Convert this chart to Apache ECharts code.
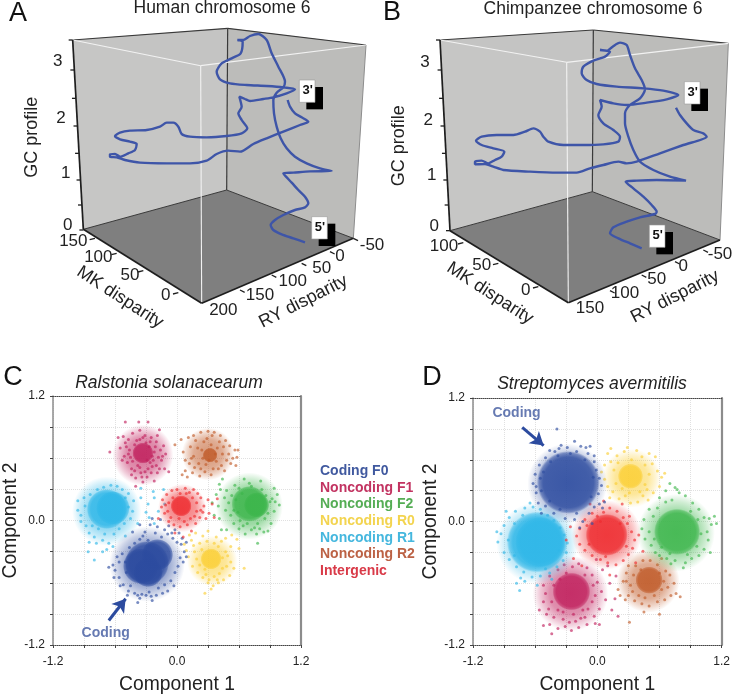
<!DOCTYPE html>
<html><head><meta charset="utf-8">
<style>html,body{margin:0;padding:0;background:#fff}#c{width:733px;height:695px}</style>
<script src="https://cdn.jsdelivr.net/npm/echarts@6/dist/echarts.min.js"></script></head>
<body><div id="c"></div>
<script>
// ---------- panels A, B: projected path of the 3D curve (picture-plane units) ----------
const humanCurve=[[915,727],[880,715],[845,703],[820,690],[812,675],[825,660],[850,645],[885,630],[915,622],[925,610],[915,590],[895,570],[875,548],[858,530],[850,520],[880,518],[930,514],[995,513],[960,505],[920,490],[885,470],[860,445],[842,415],[830,380],[822,340],[820,300],[830,278],[850,262],[855,245],[835,200],[815,160],[800,120],[775,102],[750,108],[730,120],[712,120],[728,125],[722,160],[695,175],[665,190],[650,215],[660,238],[690,250],[740,255],[800,258],[850,262],[885,268],[860,280],[820,292],[790,297],[750,303],[735,297],[718,290],[722,305],[725,320],[715,340],[725,360],[742,385],[725,400],[680,408],[620,412],[570,410],[545,402],[535,380],[520,368],[500,368],[480,380],[440,390],[390,392],[360,398],[345,408],[360,418],[390,425],[410,432],[405,450],[385,460],[360,470],[345,462],[330,463],[330,470],[350,472],[375,480],[420,488],[500,490],[570,490],[620,482],[650,462],[685,452],[720,455],[760,432],[800,415],[850,395],[900,375],[925,365],[905,352],[885,340],[870,320],[863,300]];
const chimpCurve=[[815,745],[780,730],[745,715],[720,700],[730,682],[770,665],[810,652],[855,642],[860,635],[845,615],[820,590],[790,565],[767,545],[800,542],[860,540],[948,542],[900,530],[850,510],[810,485],[790,450],[775,410],[765,370],[765,340],[780,315],[810,295],[825,268],[815,240],[795,205],[780,165],[770,135],[750,128],[728,140],[712,152],[690,150],[720,155],[705,170],[670,182],[640,200],[635,220],[650,240],[680,252],[740,260],[820,265],[880,272],[925,285],[890,298],[830,308],[770,315],[730,310],[690,300],[695,320],[685,345],[700,370],[730,390],[750,410],[745,425],[700,433],[640,435],[580,435],[535,425],[520,410],[510,395],[490,385],[465,395],[430,405],[380,405],[335,410],[318,422],[335,435],[370,445],[403,455],[395,470],[375,480],[355,490],[335,482],[315,485],[315,493],[345,492],[370,500],[400,510],[480,515],[560,518],[620,518],[660,505],[700,495],[745,485],[770,490],[800,485],[870,460],[940,435],[1010,410],[1000,400],[970,390],[950,370],[930,345],[918,323]];
const gcTicks=['3','2','1','0'];
const mkTicksA=['150','100','50','0'];
const ryTicksA=['200','150','100','50','0','-50'];
const mkTicksB=['100','50','0'];
const ryTicksB=['150','100','50','0','-50'];

// ---------- panels C, D: cluster legend and scattered points (component 1, component 2) ----------
const classNames=['Coding F0','Noncoding F1','Noncoding F2','Noncoding R0','Noncoding R1','Noncoding R2','Intergenic'];
const cCoding=[[-0.66,-0.45],[-0.56,-0.55],[-0.55,-0.63],[-0.53,-0.32],[-0.56,-0.40],[-0.52,-0.62],[-0.47,-0.68],[-0.41,-0.70],[-0.38,-0.72],[-0.34,-0.71],[-0.30,-0.72],[-0.27,-0.69],[-0.25,-0.73],[-0.20,-0.72],[-0.14,-0.70],[-0.18,-0.65],[-0.12,-0.62],[-0.06,-0.58],[-0.02,-0.50],[0.01,-0.44],[0.03,-0.36],[0.07,-0.30],[0.04,-0.23],[-0.04,-0.17],[-0.09,-0.13],[-0.15,-0.16],[-0.19,-0.06],[-0.26,-0.04],[-0.31,-0.11],[-0.36,-0.18],[-0.41,-0.22],[-0.46,-0.26],[-0.43,-0.11],[-0.36,-0.04],[-0.24,0.02],[-0.16,0.01],[-0.08,-0.05],[-0.02,-0.09],[-0.36,-0.75],[-0.38,-0.79],[-0.24,-0.77],[-0.48,-0.72],[0.02,-0.12],[0.09,-0.21],[-0.60,-0.48],[-0.49,-0.50],[-0.58,-0.35],[-0.61,-0.55],[-0.28,-0.19],[-0.21,-0.12],[-0.33,-0.15],[-0.12,-0.09],[-0.05,-0.12],[0.06,-0.40],[0.09,-0.35],[-0.03,-0.63],[-0.09,-0.68],[-0.45,-0.63],[-0.50,-0.40],[-0.62,-0.43],[0.05,-0.17],[0.00,-0.21]];
const cF1=[[-0.50,0.95],[-0.37,0.95],[-0.28,0.95],[-0.65,0.66],[-0.57,0.80],[-0.17,0.875],[-0.52,0.81],[-0.47,0.78],[-0.43,0.84],[-0.36,0.87],[-0.31,0.82],[-0.25,0.80],[-0.20,0.76],[-0.13,0.72],[-0.11,0.64],[-0.15,0.58],[-0.12,0.50],[-0.19,0.46],[-0.24,0.52],[-0.29,0.42],[-0.35,0.46],[-0.40,0.41],[-0.44,0.50],[-0.48,0.56],[-0.51,0.62],[-0.55,0.70],[-0.49,0.71],[-0.45,0.61],[-0.41,0.73],[-0.27,0.71],[-0.22,0.66],[-0.18,0.61],[-0.23,0.58],[-0.28,0.50],[-0.38,0.53],[-0.33,0.37],[-0.22,0.38],[-0.40,0.33],[-0.30,0.75],[-0.36,0.78],[-0.16,0.68],[-0.46,0.68],[-0.08,0.47],[-0.39,0.77],[-0.33,0.80],[-0.26,0.76],[-0.21,0.71],[-0.43,0.57],[-0.41,0.48],[-0.36,0.51],[-0.31,0.47],[-0.26,0.56],[-0.20,0.53],[-0.17,0.50],[-0.44,0.44],[-0.29,0.58],[-0.24,0.62],[-0.47,0.64],[-0.50,0.75],[-0.19,0.82],[-0.14,0.62],[-0.34,0.42],[-0.25,0.46],[-0.53,0.58]];
const cF2=[[0.41,0.35],[0.42,0.30],[0.38,0.25],[0.46,0.22],[0.34,0.17],[0.40,0.14],[0.36,0.05],[0.41,0.02],[0.43,-0.09],[0.48,-0.09],[0.47,0.10],[0.50,0.17],[0.52,0.05],[0.55,-0.03],[0.60,-0.08],[0.66,-0.13],[0.72,-0.09],[0.77,-0.13],[0.84,-0.11],[0.88,-0.10],[0.91,-0.03],[0.94,0.09],[0.99,0.15],[0.97,0.25],[0.94,0.31],[0.81,0.38],[0.65,0.40],[0.56,0.34],[0.48,0.29],[0.53,0.24],[0.60,0.31],[0.72,0.33],[0.86,0.24],[0.90,0.18],[0.85,0.02],[0.78,-0.03],[0.68,-0.03],[0.61,0.00],[0.55,0.10],[0.78,-0.22],[0.44,0.40],[0.92,0.21],[0.57,0.20],[0.59,0.08],[0.64,-0.05],[0.75,-0.07],[0.82,0.30],[0.70,0.36],[0.88,0.07],[0.95,0.18],[0.80,-0.08],[0.63,0.26]];
const cR0=[[0.07,-0.23],[0.12,-0.14],[0.18,-0.12],[0.25,-0.15],[0.30,-0.10],[0.38,-0.16],[0.47,-0.17],[0.53,-0.14],[0.58,-0.18],[0.60,-0.27],[0.52,-0.25],[0.47,-0.30],[0.52,-0.40],[0.55,-0.46],[0.51,-0.53],[0.45,-0.57],[0.40,-0.60],[0.35,-0.63],[0.30,-0.60],[0.25,-0.55],[0.20,-0.50],[0.15,-0.44],[0.11,-0.35],[0.09,-0.29],[0.16,-0.24],[0.22,-0.22],[0.29,-0.20],[0.40,-0.25],[0.44,-0.46],[0.36,-0.54],[0.28,-0.52],[0.19,-0.37],[0.27,-0.70],[0.65,-0.46],[0.33,-0.66],[0.41,-0.51],[0.24,-0.28],[0.36,-0.22],[0.44,-0.36],[0.48,-0.44],[0.22,-0.43],[0.17,-0.30],[0.31,-0.57],[0.39,-0.57],[0.27,-0.47],[0.49,-0.34],[0.43,-0.20],[0.14,-0.19]];
const cR1=[[-0.96,0.19],[-0.96,0.10],[-0.93,0.05],[-0.93,-0.01],[-0.88,-0.05],[-0.85,-0.12],[-0.80,-0.16],[-0.78,-0.22],[-0.85,-0.21],[-0.72,-0.19],[-0.66,-0.22],[-0.61,-0.13],[-0.56,-0.08],[-0.51,-0.03],[-0.45,0.02],[-0.43,0.09],[-0.42,0.19],[-0.47,0.26],[-0.53,0.30],[-0.58,0.33],[-0.64,0.34],[-0.71,0.32],[-0.77,0.30],[-0.84,0.25],[-0.90,0.22],[-0.72,-0.30],[-0.86,-0.30],[-0.80,-0.38],[-0.68,-0.28],[-0.35,0.22],[-0.28,0.16],[-0.22,0.22],[-0.18,0.09],[-0.38,-0.03],[-0.30,0.08],[-0.23,0.28],[-0.62,-0.25],[-0.50,-0.15],[-0.76,-0.08],[-0.35,0.31],[-0.27,0.03],[-0.22,-0.03],[-0.12,0.16],[-0.13,0.30],[-0.70,-0.13],[-0.82,-0.05],[-0.89,0.14],[-0.47,0.13],[-0.50,0.22]];
const cR2=[[0.06,0.66],[-0.02,0.73],[0.04,0.78],[0.11,0.80],[0.16,0.82],[0.23,0.85],[0.30,0.86],[0.36,0.85],[0.42,0.82],[0.47,0.77],[0.51,0.72],[0.56,0.68],[0.58,0.61],[0.52,0.55],[0.46,0.48],[0.40,0.50],[0.33,0.44],[0.27,0.47],[0.22,0.43],[0.15,0.46],[0.08,0.48],[0.05,0.44],[0.12,0.55],[0.16,0.62],[0.20,0.70],[0.26,0.76],[0.33,0.73],[0.39,0.70],[0.44,0.64],[0.48,0.58],[0.38,0.57],[0.28,0.54],[0.21,0.55],[0.57,0.53],[0.13,0.71],[0.34,0.82],[0.10,0.42],[0.59,0.68],[0.18,0.77],[0.24,0.68],[0.29,0.79],[0.41,0.76],[0.45,0.71],[0.50,0.64],[0.54,0.60],[0.43,0.53],[0.35,0.50],[0.25,0.60],[0.17,0.51],[0.14,0.60],[0.31,0.58],[0.37,0.64],[0.23,0.50],[0.08,0.58]];
const cInter=[[-0.15,0.13],[-0.14,0.20],[-0.12,0.07],[-0.10,0.25],[-0.08,-0.01],[-0.05,0.29],[-0.03,-0.04],[0.00,0.30],[0.03,-0.06],[0.08,0.31],[0.10,-0.04],[0.16,0.30],[0.18,-0.03],[0.20,0.26],[0.23,0.22],[0.26,0.14],[0.25,0.08],[0.22,0.03],[0.28,0.02],[0.31,0.07],[0.14,-0.10],[0.06,-0.16],[-0.02,-0.12],[-0.18,0.02],[0.30,0.20],[0.34,0.16],[0.19,0.09],[-0.08,0.17],[0.15,0.22],[0.09,0.26],[-0.04,0.22],[0.13,0.02],[0.36,0.03],[0.39,0.21],[-0.09,0.09],[-0.06,0.03],[0.02,0.02],[0.07,-0.01],[0.17,0.04],[0.19,0.17],[0.12,0.27],[0.03,0.26],[-0.11,0.15],[0.23,0.10]];
const dCoding=[[-0.39,0.90],[-0.22,0.78],[-0.35,0.74],[-0.16,0.73],[-0.07,0.73],[-0.11,0.72],[-0.37,0.71],[-0.41,0.68],[-0.20,0.68],[-0.09,0.66],[-0.03,0.58],[-0.50,0.62],[-0.56,0.55],[-0.60,0.46],[-0.62,0.37],[-0.59,0.28],[-0.57,0.18],[-0.50,0.15],[-0.42,0.08],[-0.31,0.03],[-0.22,0.02],[-0.14,0.00],[-0.08,0.08],[-0.03,0.14],[0.02,0.17],[0.01,0.27],[0.04,0.35],[0.02,0.42],[-0.01,0.50],[0.05,0.13],[0.07,0.19],[-0.05,-0.02],[-0.17,-0.06],[-0.54,0.08],[-0.59,0.34],[-0.03,0.64],[-0.46,0.69],[-0.29,0.72],[-0.45,0.58],[-0.52,0.48],[-0.54,0.30],[-0.46,0.20],[-0.36,0.12],[-0.20,0.08],[-0.06,0.24],[-0.04,0.43],[-0.12,0.60],[-0.26,0.66],[-0.38,0.64],[-0.55,0.42]];
const dF1=[[-0.44,-1.09],[-0.52,-1.01],[-0.46,-1.00],[-0.38,-1.04],[-0.31,-1.02],[-0.25,-1.06],[-0.18,-1.03],[-0.10,-1.00],[-0.02,-0.99],[0.02,-1.00],[-0.56,-0.86],[-0.52,-0.78],[-0.50,-0.70],[-0.52,-0.62],[-0.46,-0.53],[-0.38,-0.47],[-0.32,-0.42],[-0.24,-0.44],[-0.18,-0.41],[-0.10,-0.45],[-0.05,-0.52],[0.00,-0.59],[0.04,-0.68],[0.08,-0.76],[0.02,-0.85],[-0.03,-0.92],[-0.12,-0.93],[-0.21,-0.97],[-0.33,-0.95],[-0.42,-0.93],[-0.49,-0.90],[0.12,-0.60],[0.17,-0.75],[0.14,-0.86],[0.20,-0.92],[0.05,-0.47],[0.10,-0.43],[-0.14,-0.86],[-0.38,-0.86],[-0.05,-0.78],[-0.01,-0.37],[0.18,-0.53],[-0.44,-0.78],[-0.42,-0.62],[-0.33,-0.88],[-0.23,-0.90],[-0.09,-0.85],[-0.02,-0.72],[-0.04,-0.62],[-0.12,-0.52],[-0.30,-0.50],[-0.47,-0.85],[-0.27,-0.98],[-0.16,-0.94],[-0.36,-0.56]];
const dF2=[[0.43,-0.07],[0.45,0.02],[0.46,-0.17],[0.50,0.12],[0.52,-0.23],[0.56,-0.30],[0.60,0.23],[0.66,0.30],[0.72,0.21],[0.75,0.33],[0.79,0.28],[0.85,0.25],[0.92,0.18],[0.98,0.12],[1.03,0.04],[1.08,0.03],[1.13,0.05],[1.10,-0.03],[1.06,-0.10],[1.07,-0.18],[1.03,-0.27],[0.98,-0.33],[0.91,-0.36],[0.85,-0.40],[0.75,-0.38],[0.67,-0.36],[0.60,-0.33],[0.83,-0.45],[0.71,-0.41],[1.09,-0.30],[0.54,0.05],[0.50,-0.10],[1.15,-0.02],[0.70,0.37],[0.77,0.31],[0.55,-0.17],[0.62,-0.25],[0.58,0.13],[0.66,0.19],[0.90,0.10],[0.97,0.02],[1.00,-0.12],[0.96,-0.24],[0.87,-0.32],[0.70,-0.31]];
const dR0=[[0.07,0.55],[0.10,0.66],[0.13,0.71],[0.19,0.64],[0.26,0.68],[0.29,0.72],[0.33,0.60],[0.38,0.69],[0.43,0.63],[0.50,0.66],[0.53,0.56],[0.58,0.49],[0.62,0.43],[0.60,0.34],[0.54,0.28],[0.49,0.21],[0.44,0.25],[0.39,0.19],[0.32,0.18],[0.27,0.25],[0.21,0.22],[0.15,0.29],[0.10,0.34],[0.07,0.41],[0.04,0.48],[0.13,0.58],[0.56,0.63],[0.65,0.47],[0.46,0.36],[0.31,0.28],[0.12,0.23],[0.16,0.50],[0.20,0.57],[0.46,0.55],[0.50,0.46],[0.18,0.37],[0.24,0.32],[0.41,0.29],[0.48,0.31]];
const dR1=[[-0.96,-0.20],[-0.93,-0.12],[-0.90,-0.04],[-0.85,0.04],[-0.79,0.10],[-0.70,0.13],[-0.62,0.14],[-0.55,0.12],[-0.48,0.06],[-0.42,0.01],[-0.36,-0.06],[-0.32,-0.13],[-0.29,-0.21],[-0.30,-0.30],[-0.33,-0.38],[-0.39,-0.44],[-0.46,-0.50],[-0.55,-0.53],[-0.63,-0.54],[-0.71,-0.49],[-0.78,-0.44],[-0.85,-0.37],[-0.90,-0.30],[-0.70,-0.58],[-0.78,-0.60],[-0.75,-0.67],[-0.58,-0.62],[-0.44,-0.56],[-0.88,0.10],[-0.97,-0.10],[-0.65,0.18],[-0.74,-0.55],[-0.86,-0.18],[-0.80,-0.02],[-0.72,0.06],[-0.80,-0.33],[-0.50,-0.46],[-0.37,-0.28]];
const dR2=[[0.20,-0.66],[0.25,-0.58],[0.28,-0.50],[0.30,-0.43],[0.37,-0.43],[0.44,-0.38],[0.51,-0.38],[0.58,-0.42],[0.62,-0.36],[0.66,-0.48],[0.70,-0.52],[0.74,-0.60],[0.76,-0.70],[0.71,-0.72],[0.65,-0.76],[0.58,-0.78],[0.50,-0.82],[0.43,-0.80],[0.36,-0.77],[0.30,-0.72],[0.27,-0.76],[0.32,-0.62],[0.40,-0.72],[0.62,-0.66],[0.80,-0.73],[0.45,-0.88],[0.31,-0.98],[0.60,-0.90],[0.22,-0.72],[0.68,-0.64],[0.35,-0.52],[0.42,-0.47],[0.60,-0.50],[0.64,-0.58],[0.55,-0.72],[0.46,-0.74],[0.34,-0.68],[0.28,-0.58]];
const dInter=[[-0.17,-0.07],[-0.12,0.02],[-0.05,0.08],[0.00,0.05],[0.06,0.09],[0.12,0.13],[0.19,0.10],[0.25,0.04],[0.29,-0.02],[0.33,-0.10],[0.36,-0.18],[0.34,-0.26],[0.30,-0.32],[0.25,-0.38],[0.18,-0.42],[0.10,-0.40],[0.03,-0.37],[-0.05,-0.33],[-0.12,-0.28],[-0.17,-0.22],[-0.20,-0.14],[-0.26,-0.05],[-0.30,-0.18],[-0.23,-0.36],[-0.15,-0.43],[0.40,-0.13],[0.44,-0.29],[0.37,-0.40],[0.06,0.20],[-0.07,0.17],[0.12,-0.52],[0.31,0.05],[0.24,0.17],[-0.10,-0.04],[0.03,0.00],[0.22,-0.02],[0.28,-0.24],[0.08,-0.34],[-0.08,-0.22]];

// dense centres of each cloud: component 1, component 2, spread
const cCores={'Coding F0':[[-0.29,-0.41,0.21],[-0.35,-0.44,0.17],[-0.19,-0.33,0.15],[-0.28,-0.50,0.14]],'Noncoding F1':[[-0.33,0.65,0.10]],'Noncoding F2':[[0.70,0.16,0.17],[0.77,0.15,0.12]],'Noncoding R0':[[0.33,-0.37,0.10]],'Noncoding R1':[[-0.68,0.11,0.19],[-0.62,0.12,0.16]],'Noncoding R2':[[0.32,0.63,0.07]],'Intergenic':[[0.04,0.14,0.10]]};
const cHalos={'Coding F0':[[-0.29,-0.42,0.36]],'Noncoding F1':[[-0.33,0.63,0.29]],'Noncoding F2':[[0.70,0.14,0.32]],'Noncoding R0':[[0.34,-0.39,0.24]],'Noncoding R1':[[-0.68,0.09,0.33]],'Noncoding R2':[[0.30,0.64,0.25]],'Intergenic':[[0.05,0.12,0.23]]};
const dCores={'Coding F0':[[-0.28,0.38,0.30]],'Noncoding F1':[[-0.25,-0.68,0.18]],'Noncoding F2':[[0.77,-0.10,0.22]],'Noncoding R0':[[0.32,0.44,0.12]],'Noncoding R1':[[-0.58,-0.20,0.29],[-0.55,-0.20,0.24]],'Noncoding R2':[[0.50,-0.57,0.13]],'Intergenic':[[0.09,-0.13,0.20]]};
const dHalos={'Coding F0':[[-0.29,0.37,0.38]],'Noncoding F1':[[-0.26,-0.70,0.36]],'Noncoding F2':[[0.76,-0.11,0.37]],'Noncoding R0':[[0.33,0.42,0.28]],'Noncoding R1':[[-0.58,-0.21,0.39]],'Noncoding R2':[[0.49,-0.58,0.30]],'Intergenic':[[0.09,-0.13,0.33]]};
const cPoints={'Coding F0':cCoding,'Noncoding F1':cF1,'Noncoding F2':cF2,'Noncoding R0':cR0,'Noncoding R1':cR1,'Noncoding R2':cR2,'Intergenic':cInter};
const dPoints={'Coding F0':dCoding,'Noncoding F1':dF1,'Noncoding F2':dF2,'Noncoding R0':dR0,'Noncoding R1':dR1,'Noncoding R2':dR2,'Intergenic':dInter};

// ---------- styling and layout ----------
const TXT='#222', FONT='"Liberation Sans",Arial,sans-serif';
const clusterRGB={'Coding F0':'44,75,159','Noncoding F1':'192,31,92','Noncoding F2':'59,181,74','Noncoding R0':'251,207,53','Noncoding R1':'47,183,232','Noncoding R2':'192,90,40','Intergenic':'238,42,46'};
const legendColor={'Coding F0':'#40599f','Noncoding F1':'#c23361','Noncoding F2':'#55ad55','Noncoding R0':'#f3d44f','Noncoding R1':'#45b7de','Noncoding R2':'#bc6245','Intergenic':'#d93a48'};
const sceneA={LT:[218,120],BT:[683,85],RT:[1098,135],FT:[602,197],FB:[605,910],LB:[250,688],RB:[1060,715],BB:[680,570],
 gcTickY:[120,210,295,378,460,540,615,690],
 mkT:[[285,715],[350,760],[430,812],[535,878]],ryT:[[720,870],[815,825],[905,790],[990,755],[1060,715]],
 gcL:[[173,185],[183,355],[197,520],[203,675]],mkL:[[220,725],[295,773],[390,825],[497,887]],ryL:[[670,932],[780,885],[878,845],[965,805],[1020,768],[1116,735]],
 gcName:[95,412],mkName:[360,892],ryName:[910,905],
 tag3:[898,240],tag5:[935,650]};
const sceneB={LT:[210,120],BT:[670,90],RT:[1075,130],FT:[590,187],FB:[595,908],LB:[240,692],RB:[1050,720],BB:[667,575],
 gcTickY:[120,210,295,378,460,540,615,692],
 mkT:[[280,728],[385,790],[505,860]],ryT:[[720,872],[815,825],[915,785],[1000,750]],
 gcL:[[165,187],[175,360],[185,525],[193,680]],mkL:[[222,738],[335,797],[467,872]],ryL:[[660,925],[765,880],[860,838],[940,800],[1050,762]],
 gcName:[88,437],mkName:[360,880],ryName:[915,890],
 tag3:[943,245],tag5:[838,675]};

function sceneRender(S,mk,ry){return function(p,api){
  const c=a=>api.coord(a), poly=(pts,fill)=>({type:'polygon',shape:{points:pts.map(c)},style:{fill:fill},silent:true});
  const line=(a,b,col,w)=>{const A=c(a),B=c(b);return{type:'line',shape:{x1:A[0],y1:A[1],x2:B[0],y2:B[1]},style:{stroke:col,lineWidth:w,fill:null}}};
  const text=(at,s,size,rot,extra)=>{const P=c(at);return{type:'text',x:P[0],y:P[1],rotation:(rot||0)*Math.PI/180,style:Object.assign({text:s,fontFamily:FONT,fontSize:size,fill:TXT,align:'center',verticalAlign:'middle'},extra||{})}};
  const ch=[];
  ch.push(poly([S.LT,S.BT,S.BB,S.LB],'#c6c6c5'));
  ch.push(poly([S.LT,S.BT,S.RT,S.FT],'#c4c4c3'));
  ch.push(poly([S.BT,S.RT,S.RB,S.BB],'#bcbcba'));
  ch.push(poly([S.LB,S.BB,S.RB,S.FB],'#7f7f7f'));
  [[S.LT,S.BT,1.2],[S.BT,S.RT,1.2],[S.BT,S.BB,1.2],[S.BB,S.LB,1],[S.BB,S.RB,1]].forEach(e=>ch.push(line(e[0],e[1],'#3a3a3a',e[2])));
  ch.push(line(S.RT,S.RB,'#8d8d8d',1));
  [[S.LT,S.FT],[S.RT,S.FT],[S.FT,S.FB]].forEach(e=>ch.push(line(e[0],e[1],'#f2f2f2',1.1)));
  [[S.LT,S.LB],[S.LB,S.FB],[S.FB,S.RB]].forEach(e=>ch.push(line(e[0],e[1],'#1e1e1e',1.7)));
  S.gcTickY.forEach(y=>{const t=(y-S.LT[1])/(S.LB[1]-S.LT[1]),x=S.LT[0]+t*(S.LB[0]-S.LT[0]);ch.push(line([x,y],[x-12,y],'#1e1e1e',1.3));});
  S.mkT.forEach(a=>ch.push(line(a,[a[0]-16,a[1]+4],'#1e1e1e',1.3)));
  S.ryT.forEach(a=>ch.push(line(a,[a[0]+14,a[1]+7],'#1e1e1e',1.3)));
  gcTicks.forEach((s,i)=>ch.push(text(S.gcL[i],s,17)));
  mk.forEach((s,i)=>ch.push(text(S.mkL[i],s,17)));
  ry.forEach((s,i)=>ch.push(text(S.ryL[i],s,17)));
  ch.push(text(S.gcName,'GC profile',18,90));
  ch.push(text(S.mkName,'MK disparity',18,-33));
  ch.push(text(S.ryName,'RY disparity',18,27));
  return {type:'group',children:ch};
}}
function tagRender(S){return function(p,api){
  const ch=[];
  [[S.tag3,"3'"],[S.tag5,"5'"]].forEach(t=>{
    const a=api.coord(t[0]),b=api.coord([t[0][0]+50,t[0][1]+70]),sx=7,sy=7;
    ch.push({type:'rect',shape:{x:a[0]+sx,y:a[1]+sy,width:b[0]-a[0],height:b[1]-a[1]-1},style:{fill:'#000'}});
    ch.push({type:'rect',shape:{x:a[0],y:a[1],width:b[0]-a[0]-1,height:b[1]-a[1]-1},style:{fill:'#fff',stroke:'#999',lineWidth:.6}});
    ch.push({type:'text',x:(a[0]+b[0])/2,y:(a[1]+b[1])/2-1,style:{text:t[1],fontFamily:FONT,fontWeight:'bold',fontSize:13,fill:'#111',align:'center',verticalAlign:'middle'}});
  });
  return {type:'group',children:ch};
}}

const PX=105;
const glow=(rgb,stops)=>({type:'radial',x:.5,y:.5,r:.5,colorStops:stops.map(s=>({offset:s[0],color:'rgba('+rgb+','+s[1]+')'}))});
const CORE=[[0,1],[.8,1],[.93,.65],[1,0]], HALO=[[0,.8],[.55,.62],[.8,.3],[1,0]];
function sceneSeries(S,curve,mk,ry,ix){return [
  {type:'custom',name:'box',xAxisIndex:ix,yAxisIndex:ix,clip:false,silent:true,z:1,data:[[0,0]],renderItem:sceneRender(S,mk,ry)},
  {type:'line',name:'curve',xAxisIndex:ix,yAxisIndex:ix,data:curve,showSymbol:false,smooth:0.25,clip:false,silent:true,z:3,lineStyle:{color:'#3e55a8',width:2.4}},
  {type:'custom',name:'tags',xAxisIndex:ix,yAxisIndex:ix,clip:false,silent:true,z:4,data:[[0,0]],renderItem:tagRender(S)}
];}
function clusterSeries(points,cores,halos,order,xi,yi){
  const out=[];
  order.forEach(n=>{
    const rgb=clusterRGB[n];
    const base={type:'scatter',name:n,xAxisIndex:xi,yAxisIndex:yi,silent:true,z:3};
    out.push(Object.assign({},base,{data:halos[n],symbolSize:v=>v[2]*2*PX,itemStyle:{color:glow(rgb,HALO)}}));
    out.push(Object.assign({},base,{data:points[n],symbolSize:3,itemStyle:{color:'rgba('+rgb+',.8)'}}));
    out.push(Object.assign({},base,{data:cores[n],symbolSize:v=>v[2]*2*PX,itemStyle:{color:glow(rgb,CORE)}}));
  });
  return out;
}
function note(text,at,from,to,xi,yi){return {type:'scatter',name:'note',xAxisIndex:xi,yAxisIndex:yi,silent:true,z:6,symbolSize:0,data:[at],
  label:{show:true,position:'inside',formatter:text,fontFamily:FONT,fontWeight:'bold',fontSize:14,color:'#40599f'},
  markLine:{silent:true,animation:false,symbol:['none','arrow'],symbolSize:[12,13],label:{show:false},lineStyle:{type:'solid',color:'#2c4b9f',width:3},data:[[{coord:from},{coord:to}]]}};}

const FMT=v=>Math.abs(Math.abs(v)-1.2)<1e-6?v.toFixed(1):Math.abs(v)<1e-6?'0.0':'';
function axX(grid,name){return {type:'value',gridIndex:grid,min:-1.2,max:1.2,interval:0.3,name:name,nameLocation:'middle',nameGap:30,
  nameTextStyle:{fontFamily:FONT,fontSize:19.3,color:TXT},
  axisLine:{show:true,onZero:false,lineStyle:{color:'#444',type:'dotted',width:1}},axisTick:{show:true,length:3,lineStyle:{color:'#444'}},
  axisLabel:{show:true,hideOverlap:false,showMinLabel:true,showMaxLabel:true,formatter:FMT,fontFamily:FONT,fontSize:12,color:TXT,margin:11},
  splitLine:{show:true,lineStyle:{color:'#e0e0e0',type:'dotted',width:1}}};}
function axXtop(grid){return {type:'value',gridIndex:grid,position:'top',min:-1.2,max:1.2,interval:0.3,axisLine:{show:true,onZero:false,lineStyle:{color:'#444',type:'dotted',width:1}},axisTick:{show:false},axisLabel:{show:false},splitLine:{show:false}};}
function axY(grid,name,gap){return {type:'value',gridIndex:grid,min:-1.2,max:1.2,interval:0.3,name:name,nameLocation:'middle',nameGap:gap,
  nameTextStyle:{fontFamily:FONT,fontSize:19.3,color:TXT},
  axisLine:{show:true,onZero:false,lineStyle:{color:'#8c8c8c',width:1.5}},axisTick:{show:true,length:3,lineStyle:{color:'#444'}},
  axisLabel:{show:true,hideOverlap:false,showMinLabel:true,showMaxLabel:true,formatter:FMT,fontFamily:FONT,fontSize:12,color:TXT,margin:8},
  splitLine:{show:true,lineStyle:{color:'#e0e0e0',type:'dotted',width:1}}};}
function axYright(grid){return {type:'value',gridIndex:grid,position:'right',min:-1.2,max:1.2,interval:0.3,axisLine:{show:true,onZero:false,lineStyle:{color:'#8c8c8c',width:2.2}},axisTick:{show:false},axisLabel:{show:false},splitLine:{show:false}};}
const hidden=(grid,max,inv)=>({type:'value',gridIndex:grid,min:0,max:max,inverse:!!inv,show:false,splitLine:{show:false}});

const letter=(t,x,y)=>({text:t,left:x,top:y,padding:0,textAlign:'center',textVerticalAlign:'middle',textStyle:{fontFamily:FONT,fontSize:27,fontWeight:'normal',color:'#111'}});
const head=(t,x,y,it)=>({text:t,left:x,top:y,padding:0,textAlign:'center',textVerticalAlign:'middle',textStyle:{fontFamily:FONT,fontSize:17.5,fontStyle:it?'italic':'normal',fontWeight:'normal',color:TXT}});

const option={
  animation:false,backgroundColor:'#fff',
  title:[letter('A',18,14),letter('B',392,13),letter('C',13,378),letter('D',432,378),
    head('Human chromosome 6',222,8),head('Chimpanzee chromosome 6',593,9),
    head('Ralstonia solanacearum',169,383,true),head('Streptomyces avermitilis',592,384,true)],
  legend:{show:true,orient:'vertical',left:315,top:459,itemGap:2.7,itemWidth:0,itemHeight:0,icon:'none',selectedMode:false,
    data:classNames.map(n=>({name:n,icon:'none',textStyle:{color:legendColor[n],fontFamily:FONT,fontWeight:'bold',fontSize:14,padding:[0,0,0,-5]}}))},
  grid:[
    {left:0,top:0,width:370,height:340},
    {left:370,top:0,width:363,height:340},
    {left:48,top:396,width:253,height:251},
    {left:473,top:398,width:252,height:250}
  ],
  xAxis:[hidden(0,1110),hidden(1,1089),axX(2,'Component 1'),axX(3,'Component 1'),axXtop(2),axXtop(3)],
  yAxis:[hidden(0,1020,true),hidden(1,1020,true),axY(2,'Component 2',33),axY(3,'Component 2',30),axYright(2),axYright(3)],
  series:[].concat(
    sceneSeries(sceneA,humanCurve,mkTicksA,ryTicksA,0),
    sceneSeries(sceneB,chimpCurve,mkTicksB,ryTicksB,1),
    clusterSeries(cPoints,cCores,cHalos,['Noncoding R1','Noncoding F1','Noncoding R2','Noncoding F2','Noncoding R0','Coding F0','Intergenic'],2,2),
    clusterSeries(dPoints,dCores,dHalos,['Noncoding R2','Noncoding F1','Noncoding R0','Noncoding F2','Noncoding R1','Intergenic','Coding F0'],3,3),
    [note('Coding',[-0.69,-1.09],[-0.66,-0.964],[-0.497,-0.754],2,2),note('Coding',[-0.78,1.05],[-0.725,0.914],[-0.518,0.738],3,3)]
  )
};
const chart=echarts.init(document.getElementById('c'),null,{renderer:'canvas'});
chart.setOption(option);
</script></body></html>
